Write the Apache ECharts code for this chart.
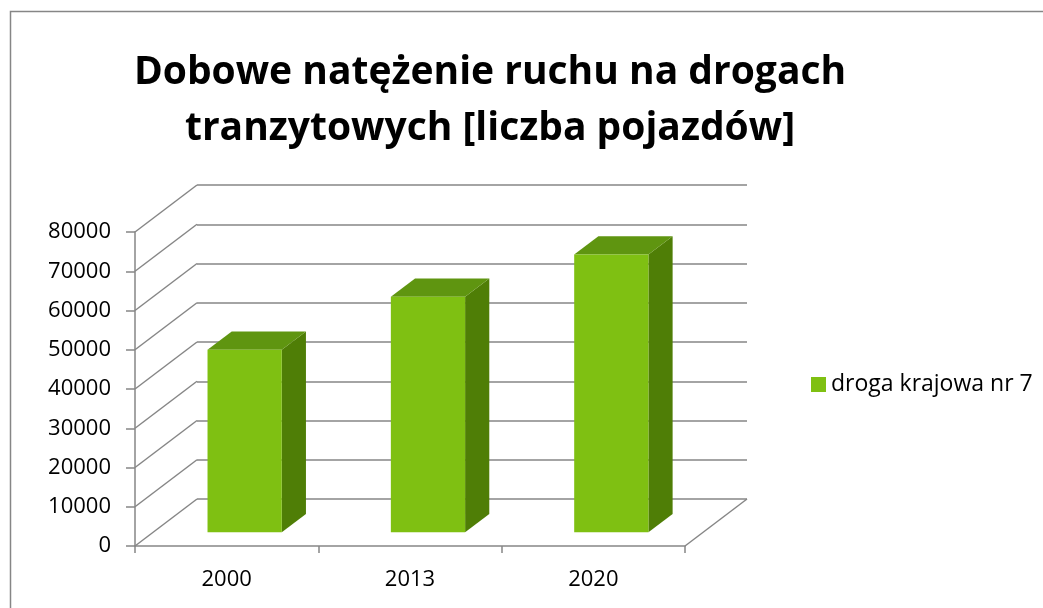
<!DOCTYPE html>
<html>
<head>
<meta charset="utf-8">
<script src="https://cdn.jsdelivr.net/npm/echarts@6/dist/echarts.min.js"></script>
<style>
html,body{margin:0;padding:0;background:#fff;}
#chart{width:1043px;height:608px;}
</style>
</head>
<body>
<div id="chart"></div>
<script>
// ---- data ----
const categories = ['2000', '2013', '2020'];
const values = [46500, 60000, 70800];
const seriesName = 'droga krajowa nr 7';
const titleText = 'Dobowe natężenie ruchu na drogach\ntranzytowych [liczba pojazdów]';
const yMin = 0, yMax = 80000, yStep = 10000;

// ---- style / geometry ----
const DX = 62, DY = -47;          // oblique depth vector of the floor
const F0 = 0.29, F1 = 0.68;       // bar front / back depth fraction
const BAR_W = 0.405;              // bar width as share of category band
const GRID = { left: 135, top: 232, width: 550, height: 314 };
const GRAY = '#868686';
const FONT = 'Open Sans';

const wallTicks = [];
for (let v = yMin; v <= yMax; v += yStep) wallTicks.push([0, v]);

const chart = echarts.init(document.getElementById('chart'), null, { renderer: 'canvas' });

const option = {
  backgroundColor: '#ffffff',
  animation: false,
  title: {
    text: titleText,
    left: 490, top: 45, textAlign: 'center', padding: 0,
    textStyle: { fontFamily: FONT, fontSize: 39, fontWeight: 'bold', color: '#000', lineHeight: 56 }
  },
  legend: {
    data: [seriesName],
    left: 811, top: 373, padding: 0,
    icon: 'rect', itemWidth: 15, itemHeight: 15, itemGap: 6,
    textStyle: { fontFamily: FONT, fontSize: 23, color: '#000' }
  },
  graphic: [{
    type: 'rect', silent: true,
    shape: { x: 10.5, y: 11.5, width: 1200, height: 800 },
    style: { fill: 'none', stroke: GRAY, lineWidth: 1.5 }
  }],
  grid: [
    { left: GRID.left, top: GRID.top, width: GRID.width, height: GRID.height },
    { left: GRID.left + DX, top: GRID.top + DY, width: GRID.width, height: GRID.height }
  ],
  xAxis: [
    {
      gridIndex: 0, type: 'category', data: categories, boundaryGap: true,
      axisLine: { lineStyle: { color: GRAY, width: 1.5 } },
      axisTick: { show: true, length: 7, lineStyle: { color: GRAY, width: 1.5 } },
      axisLabel: { fontFamily: FONT, fontSize: 22, color: '#000', margin: 23 }
    },
    { gridIndex: 1, type: 'category', data: categories, show: false }
  ],
  yAxis: [
    {
      gridIndex: 0, type: 'value', min: yMin, max: yMax, interval: yStep,
      axisLine: { show: true, lineStyle: { color: GRAY, width: 1.5 } },
      axisTick: { show: true, length: 9, lineStyle: { color: GRAY, width: 1.5 } },
      axisLabel: { fontFamily: FONT, fontSize: 22, color: '#000', margin: 24,
                   formatter: function (v) { return String(v); } },
      splitLine: { show: false }
    },
    {
      gridIndex: 1, type: 'value', min: yMin, max: yMax, interval: yStep,
      axisLine: { show: false }, axisTick: { show: false }, axisLabel: { show: false },
      splitLine: { show: true, lineStyle: { color: GRAY, width: 1.5 } }
    }
  ],
  series: [
    {
      // left side wall diagonals
      type: 'custom', name: 'wall', xAxisIndex: 0, yAxisIndex: 0, silent: true, z: 1,
      data: wallTicks,
      renderItem: function (params, api) {
        const p = api.coord([0, api.value(1)]);
        const x = params.coordSys.x;
        return {
          type: 'line',
          shape: { x1: x, y1: p[1], x2: x + DX, y2: p[1] + DY },
          style: { stroke: GRAY, lineWidth: 1.5 }
        };
      }
    },
    {
      // right floor edge
      type: 'custom', name: 'floor', xAxisIndex: 0, yAxisIndex: 0, silent: true, z: 1,
      data: [[categories.length - 1, yMin]],
      renderItem: function (params, api) {
        const p = api.coord([0, api.value(1)]);
        const x = params.coordSys.x + params.coordSys.width;
        return {
          type: 'line',
          shape: { x1: x, y1: p[1], x2: x + DX, y2: p[1] + DY },
          style: { stroke: GRAY, lineWidth: 1.5 }
        };
      }
    },
    {
      type: 'custom', name: seriesName, xAxisIndex: 0, yAxisIndex: 0, z: 5,
      itemStyle: { color: '#7fc012' },
      data: values.map((v, i) => [i, v]),
      renderItem: function (params, api) {
        const i = api.value(0);
        const base = api.coord([i, yMin]);
        const top = api.coord([i, api.value(1)]);
        const band = api.size([1, 0])[0];
        const w = band * BAR_W;
        const x0 = base[0] - w / 2 + F0 * DX;
        const x1 = x0 + w;
        const yb = base[1] + F0 * DY;
        const yt = top[1] + F0 * DY;
        const dx = (F1 - F0) * DX, dy = (F1 - F0) * DY;
        return {
          type: 'group',
          children: [
            { type: 'polygon', shape: { points: [[x1, yb], [x1 + dx, yb + dy], [x1 + dx, yt + dy], [x1, yt]] },
              style: { fill: '#4f7e06' } },
            { type: 'polygon', shape: { points: [[x0, yt], [x1, yt], [x1 + dx, yt + dy], [x0 + dx, yt + dy]] },
              style: { fill: '#5f9510' } },
            { type: 'rect', shape: { x: x0, y: yt, width: w, height: yb - yt },
              style: { fill: '#7fc012' } }
          ]
        };
      }
    }
  ]
};
chart.setOption(option);
</script>
</body>
</html>
